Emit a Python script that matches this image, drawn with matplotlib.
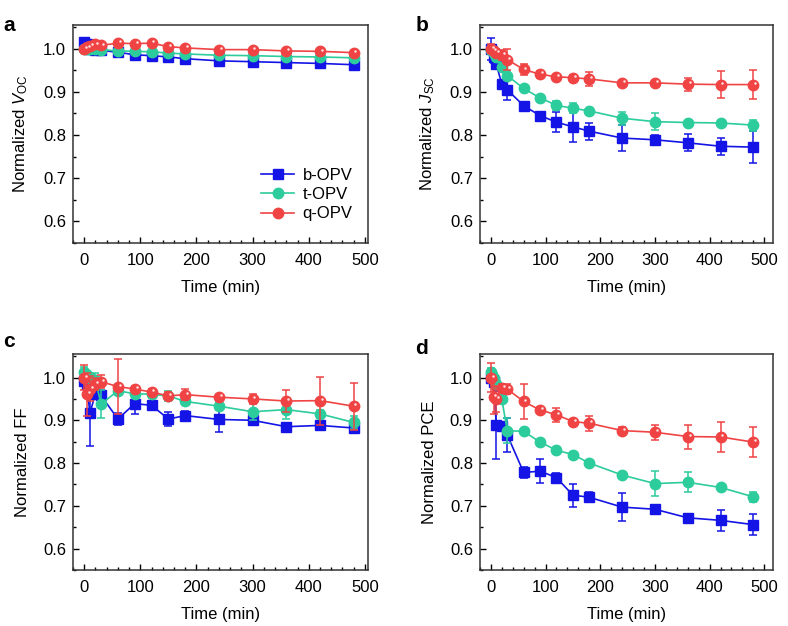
import matplotlib
matplotlib.use("Agg")
import matplotlib.pyplot as plt
from matplotlib.ticker import MultipleLocator
from matplotlib.lines import Line2D
from matplotlib.transforms import offset_copy

plt.rcParams["font.family"] = ["Liberation Sans", "DejaVu Sans"]
plt.rcParams["mathtext.fontset"] = "custom"
plt.rcParams["mathtext.rm"] = "Liberation Sans"
plt.rcParams["mathtext.it"] = "Liberation Sans:italic"

# time points (min)
time_min = [0, 5, 10, 20, 30, 60, 90, 120, 150, 180, 240, 300, 360, 420, 480]
series_names = ["b-OPV", "t-OPV", "q-OPV"]

# a: normalized Voc
voc_b = [1.015, 1.012, 1.0, 0.997, 0.996, 0.992, 0.986, 0.984, 0.981, 0.977, 0.972, 0.970, 0.968, 0.966, 0.963]
voc_t = [1.0, 1.0, 1.0, 1.0, 0.998, 0.995, 0.994, 0.993, 0.990, 0.988, 0.985, 0.984, 0.982, 0.981, 0.979]
voc_q = [1.0, 1.003, 1.006, 1.01, 1.008, 1.013, 1.012, 1.013, 1.005, 1.002, 0.998, 0.998, 0.995, 0.994, 0.991]
voc_b_err = [0.004, 0.004, 0.003, 0.003, 0.003, 0.003, 0.003, 0.003, 0.003, 0.003, 0.003, 0.003, 0.003, 0.003, 0.003]
voc_t_err = [0.003] * 15
voc_q_err = [0.004, 0.004, 0.004, 0.004, 0.004, 0.004, 0.004, 0.005, 0.004, 0.004, 0.004, 0.004, 0.004, 0.004, 0.004]

# b: normalized Jsc
jsc_b = [1.0, 0.98, 0.965, 0.918, 0.905, 0.868, 0.845, 0.83, 0.819, 0.809, 0.793, 0.789, 0.782, 0.774, 0.772]
jsc_t = [0.997, 0.99, 0.98, 0.957, 0.938, 0.908, 0.886, 0.869, 0.862, 0.856, 0.839, 0.831, 0.829, 0.828, 0.823]
jsc_q = [1.0, 0.995, 0.99, 0.986, 0.975, 0.952, 0.941, 0.935, 0.933, 0.930, 0.921, 0.921, 0.918, 0.917, 0.917]
jsc_b_err = [0.025, 0.012, 0.01, 0.006, 0.024, 0.005, 0.008, 0.023, 0.035, 0.02, 0.03, 0.012, 0.02, 0.02, 0.037]
jsc_t_err = [0.01, 0.008, 0.006, 0.005, 0.01, 0.004, 0.004, 0.01, 0.012, 0.004, 0.015, 0.02, 0.004, 0.004, 0.013]
jsc_q_err = [0.01, 0.008, 0.01, 0.012, 0.025, 0.012, 0.008, 0.005, 0.006, 0.016, 0.005, 0.005, 0.015, 0.032, 0.034]

# c: normalized FF
ff_b = [0.993, 0.985, 0.916, 0.962, 0.958, 0.903, 0.939, 0.935, 0.903, 0.911, 0.902, 0.900, 0.885, 0.888, 0.882]
ff_t = [1.014, 1.006, 1.0, 0.995, 0.938, 0.969, 0.962, 0.961, 0.957, 0.944, 0.933, 0.920, 0.925, 0.915, 0.895]
ff_q = [1.0, 0.961, 0.974, 0.985, 0.99, 0.979, 0.973, 0.966, 0.957, 0.960, 0.954, 0.950, 0.945, 0.946, 0.933]
ff_b_err = [0.01, 0.01, 0.076, 0.01, 0.012, 0.014, 0.025, 0.006, 0.016, 0.01, 0.03, 0.01, 0.005, 0.005, 0.007]
ff_t_err = [0.01, 0.01, 0.01, 0.015, 0.032, 0.01, 0.008, 0.008, 0.012, 0.008, 0.01, 0.02, 0.022, 0.01, 0.015]
ff_q_err = [0.03, 0.05, 0.03, 0.015, 0.015, 0.065, 0.008, 0.008, 0.008, 0.012, 0.006, 0.012, 0.025, 0.056, 0.055]

# d: normalized PCE
pce_b = [1.0, 0.99, 0.889, 0.886, 0.866, 0.778, 0.781, 0.766, 0.725, 0.72, 0.697, 0.692, 0.672, 0.666, 0.656]
pce_t = [1.012, 1.0, 0.985, 0.95, 0.876, 0.874, 0.849, 0.83, 0.82, 0.80, 0.772, 0.752, 0.755, 0.743, 0.721]
pce_q = [1.0, 0.954, 0.95, 0.976, 0.973, 0.944, 0.924, 0.913, 0.897, 0.893, 0.876, 0.872, 0.862, 0.861, 0.849]
pce_b_err = [0.012, 0.012, 0.08, 0.01, 0.04, 0.012, 0.028, 0.01, 0.027, 0.012, 0.033, 0.01, 0.008, 0.025, 0.025]
pce_t_err = [0.01, 0.01, 0.01, 0.01, 0.03, 0.005, 0.005, 0.005, 0.005, 0.005, 0.005, 0.03, 0.023, 0.005, 0.012]
pce_q_err = [0.035, 0.04, 0.03, 0.01, 0.012, 0.042, 0.008, 0.016, 0.007, 0.018, 0.008, 0.018, 0.028, 0.035, 0.035]

colors = ["#1414e6", "#2ccc9c", "#f04444"]
markers = ["s", "o", "o"]
msizes = [6.5, 7.5, 7.5]

panels = [
    ("a", r"Normalized $V_{\mathrm{OC}}$", [voc_b, voc_t, voc_q], [voc_b_err, voc_t_err, voc_q_err]),
    ("b", r"Normalized $J_{\mathrm{SC}}$", [jsc_b, jsc_t, jsc_q], [jsc_b_err, jsc_t_err, jsc_q_err]),
    ("c", "Normalized FF", [ff_b, ff_t, ff_q], [ff_b_err, ff_t_err, ff_q_err]),
    ("d", "Normalized PCE", [pce_b, pce_t, pce_q], [pce_b_err, pce_t_err, pce_q_err]),
]

# axes rectangles in figure fraction (left, bottom, width, height)
rects = [
    (0.0926, 0.612, 0.374, 0.348),
    (0.609, 0.612, 0.372, 0.348),
    (0.0926, 0.0895, 0.374, 0.345),
    (0.609, 0.0895, 0.372, 0.345),
]
xlims = [(-20, 505), (-20, 516), (-20, 505), (-20, 516)]
letter_pos = [(0.004, 0.975), (0.527, 0.975), (0.004, 0.47), (0.527, 0.458)]

fig = plt.figure(figsize=(7.88, 6.26), dpi=100)

for i, (letter, ylabel, ys, errs) in enumerate(panels):
    ax = fig.add_axes(rects[i])
    for j in range(3):
        ax.errorbar(time_min, ys[j], yerr=errs[j], color=colors[j], marker=markers[j],
                    markersize=msizes[j], markeredgecolor=colors[j], linewidth=1.2,
                    elinewidth=1.1, capsize=3, capthick=1.1, zorder=3 + j)
        if j == 2:
            # small highlight on the red spheres
            shifted = offset_copy(ax.transData, fig=fig, x=1.3, y=1.3, units="points")
            ax.plot(time_min, ys[j], linestyle="none", marker="o", markersize=1.8,
                    color="#ffe0e0", markeredgewidth=0, zorder=6, transform=shifted)
    ax.set_xlim(*xlims[i])
    ax.set_ylim(0.55, 1.055)
    ax.set_xticks([0, 100, 200, 300, 400, 500])
    ax.set_yticks([0.6, 0.7, 0.8, 0.9, 1.0])
    ax.xaxis.set_minor_locator(MultipleLocator(20))
    ax.yaxis.set_minor_locator(MultipleLocator(0.05))
    ax.tick_params(which="both", direction="in", top=False, right=False, labelsize=12)
    ax.tick_params(which="major", length=4, width=1)
    ax.tick_params(which="minor", length=2, width=1)
    ax.tick_params(axis="x", which="major", pad=7)
    ax.tick_params(axis="y", which="major", pad=5)
    for s in ax.spines.values():
        s.set_linewidth(1.1)
        s.set_color("#333333")
    ax.set_xlabel("Time (min)", fontsize=12, labelpad=9)
    ax.set_ylabel(ylabel, fontsize=12, labelpad=9)
    fig.text(letter_pos[i][0], letter_pos[i][1], letter, fontsize=15, fontweight="bold",
             va="top", ha="left")
    if i == 0:
        handles = [Line2D([], [], color=colors[k], marker=markers[k], markersize=msizes[k],
                          linewidth=1.2) for k in range(3)]
        ax.legend(handles, series_names, loc="lower right", frameon=False, fontsize=12,
                  handlelength=2.0, handletextpad=0.5, labelspacing=0.25,
                  bbox_to_anchor=(1.0, 0.03))

fig.savefig("out.png", dpi=100)
